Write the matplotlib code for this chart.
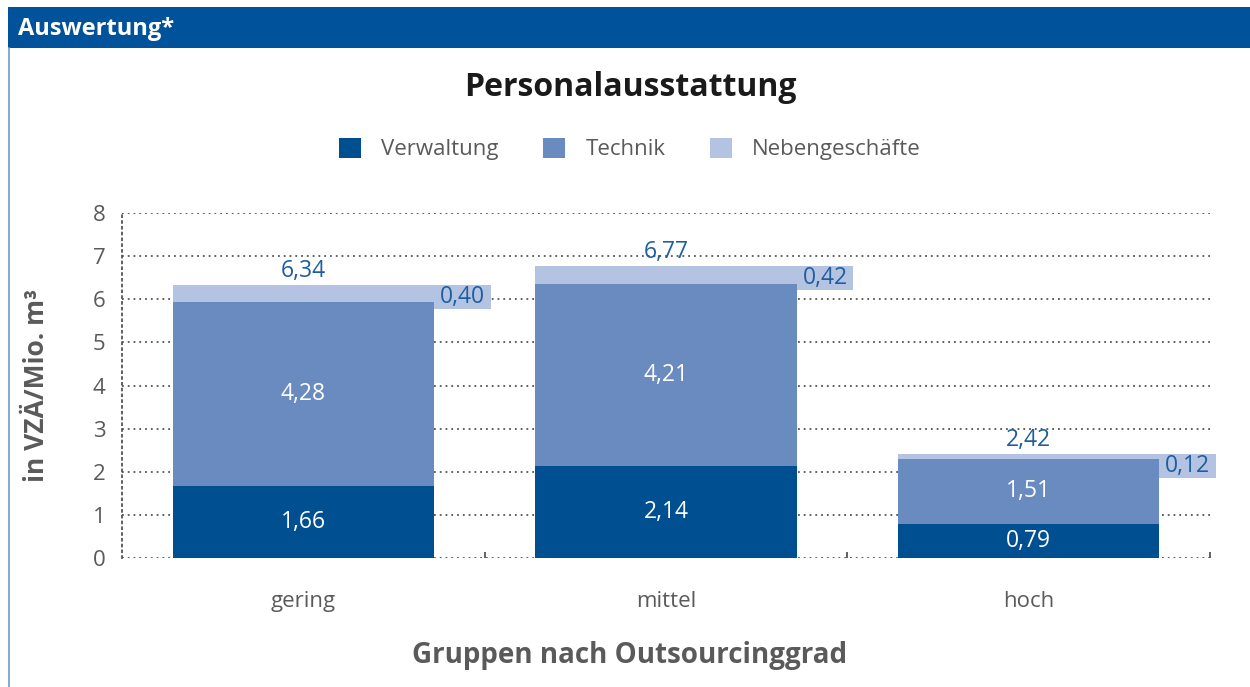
import matplotlib.pyplot as plt
from matplotlib.patches import Rectangle

# Data
categories = ["gering", "mittel", "hoch"]
verwaltung = [1.66, 2.14, 0.79]
technik = [4.28, 4.21, 1.51]
nebengeschaefte = [0.40, 0.42, 0.12]
totals = [6.34, 6.77, 2.42]

c_verw = "#004F91"
c_tech = "#6A8BBF"
c_neben = "#B4C3E1"
c_label = "#1F5E9E"
c_head = "#00529B"
c_gray = "#5A5A5A"

plt.rcParams["font.family"] = ["Open Sans", "DejaVu Sans"]


def fmt(v):
    return f"{v:.2f}".replace(".", ",")


W, H = 1250, 687
fig = plt.figure(figsize=(W / 100, H / 100), dpi=100)
fig.patch.set_facecolor("white")

# header bar and frame
fig.patches.append(Rectangle((8 / W, 1 - 48 / H), 1 - 8 / W, 41 / H,
                             transform=fig.transFigure, fc=c_head, ec="none"))
fig.lines.append(plt.Line2D([9 / W, 9 / W], [0, 1 - 48 / H], transform=fig.transFigure,
                            color="#6F9BC8", lw=1.2))
fig.text(18 / W, 1 - 29 / H, "Auswertung*", color="white", fontsize=17,
         fontweight="bold", va="center", ha="left")

fig.text(630 / W, 1 - 88 / H, "Personalausstattung", fontsize=23, fontweight="bold",
         ha="center", va="center", color="#1A1A1A")

# axes
ax = fig.add_axes([122 / W, (H - 558) / H, 1088 / W, 345 / H])
x = [i + 0.5 for i in range(len(categories))]
bw = 0.72

b1 = ax.bar(x, verwaltung, bw, color=c_verw, label="Verwaltung", zorder=3)
bottom2 = verwaltung
b2 = ax.bar(x, technik, bw, bottom=bottom2, color=c_tech, label="Technik", zorder=3)
bottom3 = [a + b for a, b in zip(verwaltung, technik)]
b3 = ax.bar(x, nebengeschaefte, bw, bottom=bottom3, color=c_neben,
            label="Nebengeschäfte", zorder=3)

for i in range(len(categories)):
    ax.text(x[i], verwaltung[i] / 2, fmt(verwaltung[i]), color="white", fontsize=16.5,
            ha="center", va="center", zorder=4)
    ax.text(x[i], verwaltung[i] + technik[i] / 2, fmt(technik[i]), color="white",
            fontsize=16.5, ha="center", va="center", zorder=4)
    ax.text(x[i], totals[i] + 0.32, fmt(totals[i]), color=c_label, fontsize=16.5,
            ha="center", va="center", zorder=4)
    # label box for Nebengeschaefte
    xr = x[i] + bw / 2
    top = bottom3[i] + nebengeschaefte[i]
    bh, bwid = 0.56, 0.157
    ax.add_patch(Rectangle((xr, top - bh), bwid, bh, fc=c_neben, ec="none",
                           zorder=3, clip_on=False))
    ax.text(xr + bwid / 2, top - bh / 2, fmt(nebengeschaefte[i]), color=c_label,
            fontsize=16.5, ha="center", va="center", zorder=4, clip_on=False)

ax.set_xlim(0, 3)
ax.set_ylim(0, 8)
ax.set_yticks(range(0, 9))
ax.set_xticks(x)
ax.set_xticklabels(categories)
ax.set_xticks([1, 2, 3], minor=True)
ax.tick_params(axis="both", which="major", length=0, labelsize=16, colors=c_gray, pad=12)
ax.tick_params(axis="x", which="major", pad=24)
ax.tick_params(axis="x", which="minor", direction="in", length=4, width=1.3,
               color="#555555", bottom=True)
ax.yaxis.grid(True, linestyle=(0, (1, 2.2)), color="#555555", lw=1.3, zorder=1)
for s in ["top", "right", "bottom"]:
    ax.spines[s].set_visible(False)
ax.spines["left"].set_linestyle((0, (1, 2.2)))
ax.spines["left"].set_color("#555555")
ax.spines["left"].set_linewidth(1.3)

ax.set_ylabel("in VZÄ/Mio. m³", fontsize=19, fontweight="bold", color=c_gray, labelpad=31)
fig.text(630 / W, 1 - 655 / H, "Gruppen nach Outsourcinggrad", fontsize=20,
         fontweight="bold", color=c_gray, ha="center", va="center")

fig.legend(handles=[b1, b2, b3], loc="center", bbox_to_anchor=(630 / W, 1 - 149 / H),
           ncol=3, frameon=False, fontsize=16, handlelength=1.0, handleheight=1.0,
           columnspacing=2.0, handletextpad=0.9, labelcolor=c_gray)

fig.savefig("out.png", dpi=100)
